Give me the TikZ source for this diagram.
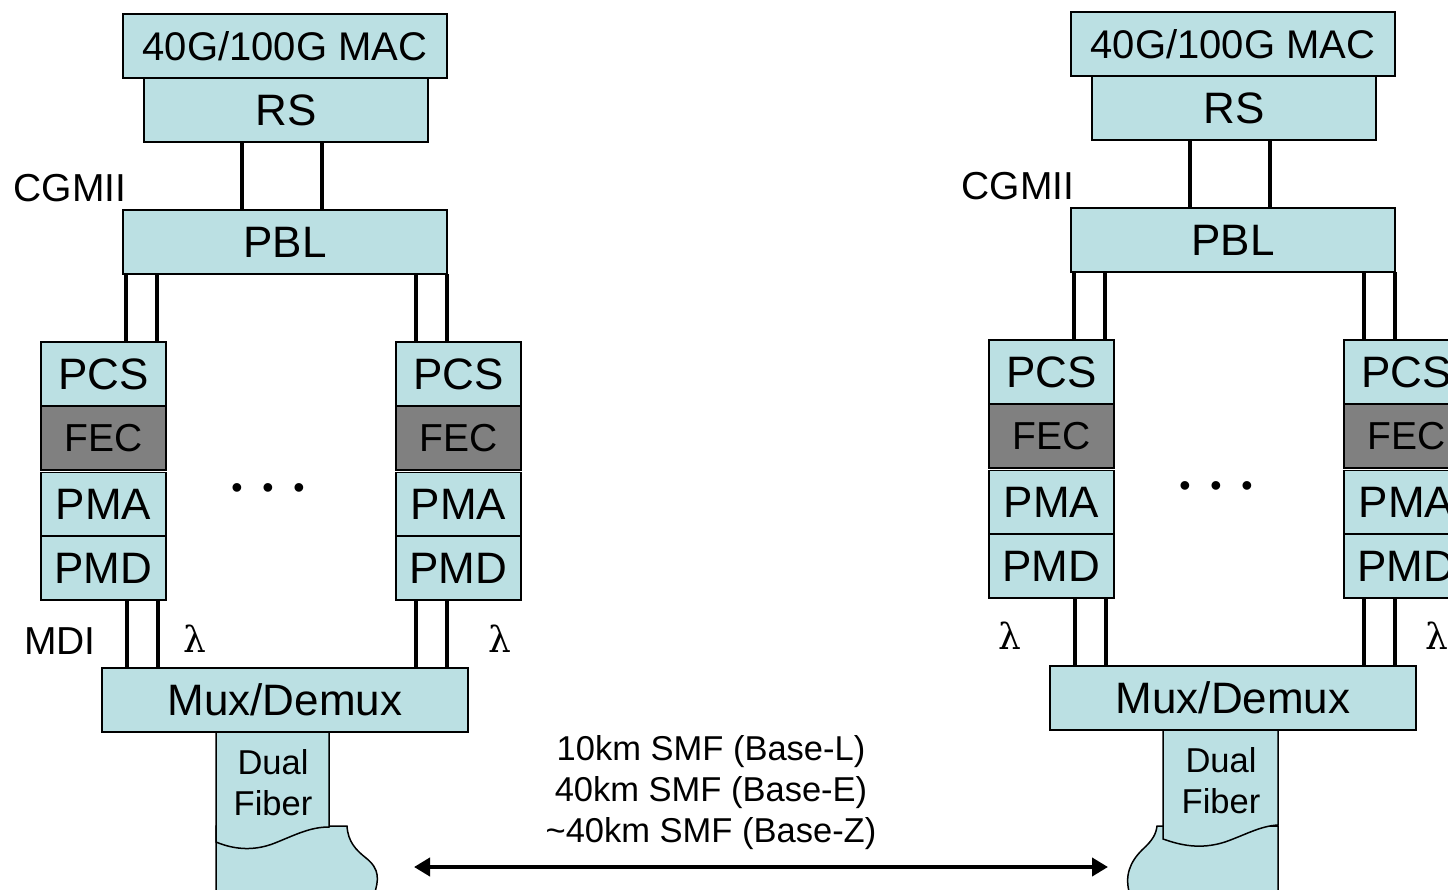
\documentclass[tikz,border=0pt]{standalone}
\usepackage{fontspec}
\setmainfont{Liberation Sans}
\newfontfamily\lamfont{DejaVu Serif}
\usetikzlibrary{arrows.meta}
\definecolor{boxcyan}{RGB}{187,224,227}
\definecolor{fecgray}{RGB}{128,128,128}
\tikzset{
  layer/.style={draw=black, line width=1.5pt, fill=boxcyan, inner sep=0pt, outer sep=0pt,
    minimum height=64pt, font=\fontsize{44}{48}\selectfont},
  fecbox/.style={layer, fill=fecgray, font=\fontsize{39}{44}\selectfont},
  wire/.style={line width=4pt},
  lbl/.style={inner sep=0pt, font=\fontsize{39}{44}\selectfont},
  lam/.style={inner sep=0pt, font=\lamfont\fontsize{36}{40}\selectfont},
  fiber/.style={draw=black, line width=1.5pt, fill=boxcyan},
  small/.style={inner sep=0pt, align=center, font=\fontsize{34.5}{41}\selectfont},
  dots/.style={inner sep=0pt, font=\fontsize{32}{36}\selectfont}
}
\newcommand\drawstack[2]{%
\begin{scope}[shift={#2}]
  \node[layer, minimum width=324pt, font=\fontsize{40}{44}\selectfont] (#1-mac) at (285,46) {40G/100G MAC};
  \node[layer, minimum width=284pt] (#1-rs) at (286,110) {RS};
  \node[layer, minimum width=324pt] (#1-pbl) at (285,242) {PBL};
  \node[layer, minimum width=125pt] (#1-pcsa) at (103.5,374) {PCS};
  \node[fecbox, minimum width=125pt] (#1-feca) at (103.5,438) {FEC};
  \node[layer, minimum width=125pt] (#1-pmaa) at (103.5,504.5) {PMA};
  \node[layer, minimum width=125pt] (#1-pmda) at (103.5,568) {PMD};
  \node[layer, minimum width=125pt] (#1-pcsb) at (458.5,374) {PCS};
  \node[fecbox, minimum width=125pt] (#1-fecb) at (458.5,438) {FEC};
  \node[layer, minimum width=125pt] (#1-pmab) at (458.5,504.5) {PMA};
  \node[layer, minimum width=125pt] (#1-pmdb) at (458.5,568) {PMD};
  \node[layer, minimum width=366pt] (#1-mux) at (285,700) {Mux/Demux};
  \draw[wire] ([xshift=-44pt]#1-rs.south) -- ([xshift=-44pt]#1-rs.south |- #1-pbl.north);
  \draw[wire] ([xshift=36pt]#1-rs.south) -- ([xshift=36pt]#1-rs.south |- #1-pbl.north);
  \draw[wire] ([xshift=22.5pt]#1-pcsa.north) -- ([xshift=22.5pt]#1-pcsa.north |- #1-pbl.south);
  \draw[wire] ([xshift=53.5pt]#1-pcsa.north) -- ([xshift=53.5pt]#1-pcsa.north |- #1-pbl.south);
  \draw[wire] ([xshift=-43pt]#1-pcsb.north) -- ([xshift=-43pt]#1-pcsb.north |- #1-pbl.south);
  \draw[wire] ([xshift=-12pt]#1-pcsb.north) -- ([xshift=-12pt]#1-pcsb.north |- #1-pbl.south);
  \draw[wire] ([xshift=23pt]#1-pmda.south) -- ([xshift=23pt]#1-pmda.south |- #1-mux.north);
  \draw[wire] ([xshift=54pt]#1-pmda.south) -- ([xshift=54pt]#1-pmda.south |- #1-mux.north);
  \draw[wire] ([xshift=-43pt]#1-pmdb.south) -- ([xshift=-43pt]#1-pmdb.south |- #1-mux.north);
  \draw[wire] ([xshift=-12pt]#1-pmdb.south) -- ([xshift=-12pt]#1-pmdb.south |- #1-mux.north);
  \node[lbl] (#1-cgmii) at (70,188) {CGMII};
  \node[dots] (#1-dots) at (268,491) {•\hspace{19.8pt}•\hspace{19.8pt}•};
\end{scope}}
\begin{document}
\begin{tikzpicture}[x=1pt,y=-1pt]
\useasboundingbox (0,0) rectangle (1448,890);
\clip (0,0) rectangle (1448,890);
% fibers (drawn first, under the mux boxes)
\filldraw[fiber] (216,895) -- (216,826) -- (347,826) .. controls (348,842) and (356,850) .. (366,858) .. controls (380,869) and (379,880) .. (374,895);
\filldraw[fiber] (216,732) -- (329,732) -- (329,827) .. controls (310,827) and (295,835) .. (275,843) .. controls (255,851) and (235,850) .. (216,842) -- cycle;
\filldraw[fiber] (1130,895) .. controls (1124,876) and (1130,862) .. (1142,850) .. controls (1153,840) and (1156,834) .. (1157,826) -- (1278,826) -- (1278,895);
\filldraw[fiber] (1163,730) -- (1278,730) -- (1278,825) .. controls (1260,826) and (1245,835) .. (1225,842) .. controls (1200,850) and (1180,845) .. (1163,839) -- cycle;
\node[small] (fibL) at (273,783) {Dual\\Fiber};
\node[small] (fibR) at (1221,781) {Dual\\Fiber};
\drawstack{L}{(0,0)}
\drawstack{R}{(948,-2)}
\node[lbl] (mdi) at (60,641) {MDI};
\node[lam] (lamLa) at (195,639) {λ};
\node[lam] (lamLb) at (500,639) {λ};
\node[lam] (lamRa) at (1010,636) {λ};
\node[lam] (lamRb) at (1437,636) {λ};
\node[small] (dist) at (711,793) {10km SMF (Base-L)\\40km SMF (Base-E)\\\textasciitilde40km SMF (Base-Z)};
\coordinate (arrL) at (414,867);
\coordinate (arrR) at (1108,867);
\draw[wire, {Triangle[length=16pt,width=18pt]}-{Triangle[length=16pt,width=18pt]}] (arrL) -- (arrR);
\end{tikzpicture}
\end{document}
